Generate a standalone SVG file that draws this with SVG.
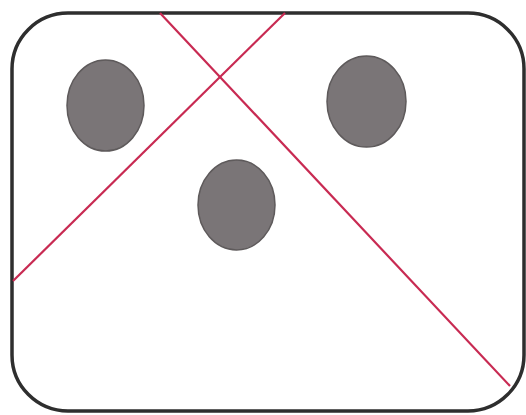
<svg xmlns="http://www.w3.org/2000/svg" width="526" height="415" viewBox="0 0 526 415">
<style>
.frame{fill:#fff;stroke:#2e2e2e;stroke-width:3.5}
.dot{fill:#7a7577;stroke:#5e5a5b;stroke-width:1.5}
.line{stroke:#c82a52;stroke-width:2.2;fill:none}
</style>
<rect width="526" height="415" fill="#fff"/>
<g id="frame"><rect class="frame" x="12" y="13" width="512" height="398" rx="56" ry="56"/></g>
<g id="lines">
<line class="line" x1="160" y1="13" x2="510" y2="386"/>
<line class="line" x1="285" y1="13" x2="13" y2="281"/>
</g>
<g id="dot-left"><ellipse class="dot" cx="105.5" cy="105.5" rx="38.5" ry="45.5"/></g>
<g id="dot-right"><ellipse class="dot" cx="366.5" cy="101.5" rx="39.5" ry="45.5"/></g>
<g id="dot-middle"><ellipse class="dot" cx="236.5" cy="205" rx="38.5" ry="45"/></g>
</svg>
